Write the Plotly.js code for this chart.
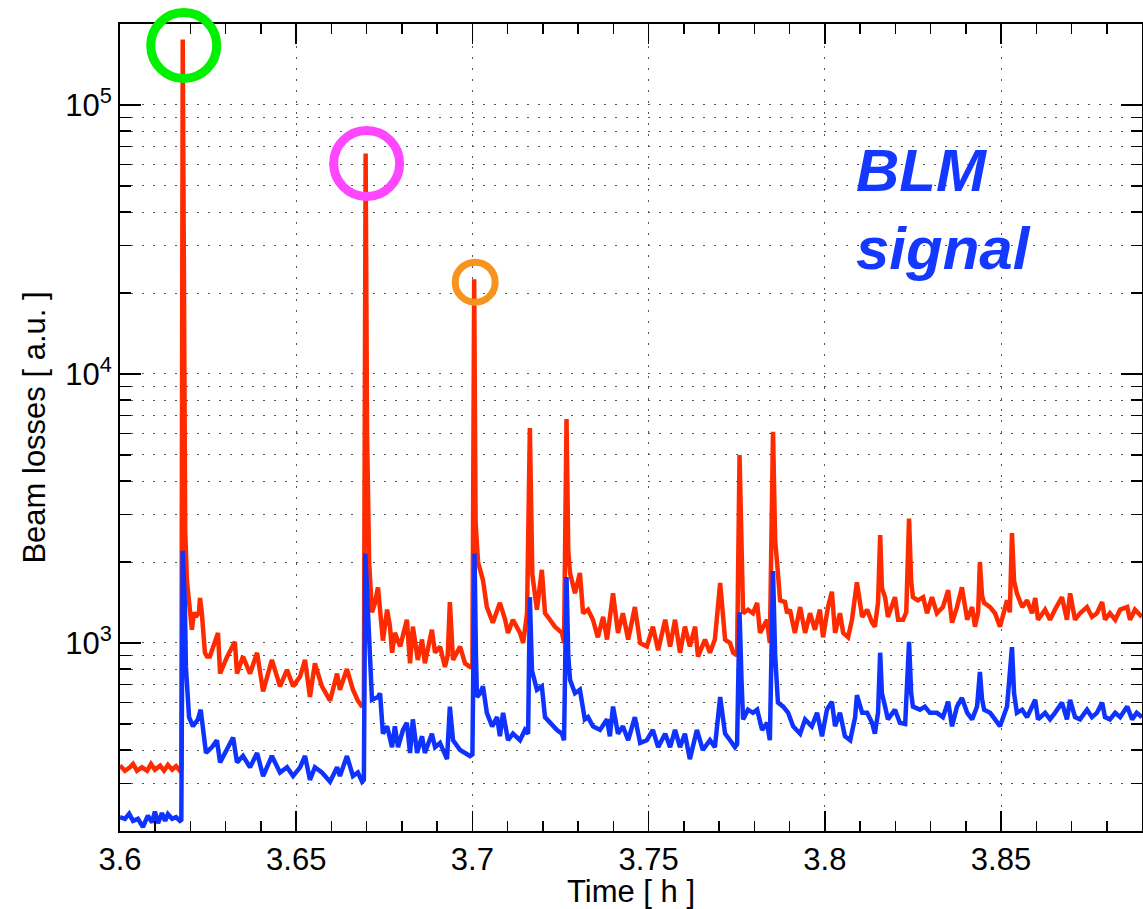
<!DOCTYPE html>
<html>
<head>
<meta charset="utf-8">
<script src="https://cdn.plot.ly/plotly-3.0.1.min.js"></script>
<style>html,body{margin:0;padding:0;background:#fff;}#chart{width:1143px;height:909px;}</style>
</head>
<body>
<div id="chart"></div>
<script>
// ---- data (time in hours, beam losses in a.u.) ----
const redTime = [3.6000,3.6014,3.6028,3.6037,3.6048,3.6062,3.6077,3.6088,3.6099,3.6114,3.6125,3.6136,3.6148,3.6159,3.6170,3.6174,
3.6178,3.6182,3.6185,3.6190,3.6199,3.6204,3.6210,3.6215,3.6224,3.6227,3.6232,3.6236,3.6241,3.6247,
3.6255,3.6278,3.6284,3.6304,3.6326,3.6332,3.6349,3.6369,3.6389,3.6406,3.6431,3.6454,3.6474,3.6491,3.6511,3.6525,3.6539,3.6553,3.6573,3.6596,3.6616,3.6624,3.6644,3.6661,3.6675,3.6687,3.6692,
3.6697,3.6701,3.6707,3.6715,3.6723,3.6732,3.6746,3.6758,3.6766,3.6772,3.6780,3.6795,3.6814,3.6823,3.6831,3.6845,3.6857,3.6865,3.6885,3.6894,3.6908,3.6922,3.6930,3.6936,3.6945,3.6965,3.6979,3.6993,3.7000,
3.7005,3.7009,3.7016,3.7022,3.7030,3.7041,3.7058,3.7078,3.7093,3.7101,3.7115,3.7135,3.7144,3.7155,
3.7163,3.7170,3.7183,3.7197,3.7206,3.7220,3.7234,3.7254,3.7260,
3.7267,3.7272,3.7277,3.7291,3.7305,3.7314,3.7328,3.7342,3.7356,3.7371,3.7382,3.7399,3.7413,3.7427,3.7442,3.7461,3.7476,3.7495,3.7512,3.7527,3.7547,3.7561,3.7575,3.7589,3.7603,3.7617,3.7632,3.7640,3.7660,3.7674,3.7688,3.7703,3.7717,3.7731,3.7740,3.7751,
3.7758,3.7764,3.7768,3.7782,3.7796,3.7808,3.7816,3.7836,3.7844,
3.7853,3.7859,3.7864,3.7873,3.7887,3.7893,3.7901,3.7915,3.7930,3.7944,3.7958,3.7972,3.7986,3.7995,3.8009,3.8020,3.8029,3.8043,3.8052,3.8066,3.8077,3.8091,3.8106,3.8120,3.8134,3.8142,3.8151,
3.8157,3.8162,3.8171,3.8179,3.8199,3.8208,3.8222,3.8231,
3.8239,3.8245,3.8250,3.8264,3.8279,3.8290,3.8304,3.8318,3.8335,3.8350,3.8361,3.8375,3.8389,3.8404,3.8418,3.8426,3.8435,
3.8440,3.8446,3.8452,3.8469,3.8483,3.8497,3.8517,3.8525,
3.8531,3.8537,3.8545,3.8560,3.8574,3.8588,3.8597,3.8605,3.8625,3.8639,3.8653,3.8673,3.8687,3.8696,3.8710,3.8724,3.8744,3.8758,3.8772,3.8787,3.8795,3.8809,3.8824,3.8838,3.8858,3.8866,3.8880,3.8900];
const redLoss = [350,335,345,355,335,345,335,355,338,350,335,352,338,348,335,340,
175000,20000,2600,1700,1300,1120,1300,1250,1300,1470,1300,1030,920,890,
890,1090,770,890,1010,770,890,770,920,660,865,690,795,690,750,865,630,840,690,610,770,670,800,670,610,580,600,
66000,6000,1980,1300,1400,1610,1020,1330,1150,920,1090,970,1220,840,1150,865,1030,840,1120,920,970,815,900,1420,865,970,840,815,830,
22500,2800,2000,1870,1710,1360,1190,1410,1220,1090,1220,1090,1000,1290,
6300,1800,1330,1870,1290,1220,1150,1090,1000,
6800,2200,1820,1530,1820,1290,1330,1220,1050,1250,1030,1530,1090,1290,1030,1360,1000,970,1150,940,1220,970,1220,920,1150,970,1150,890,1030,920,1030,1670,1030,1000,920,900,
5000,1600,1290,1330,1290,1410,1090,1220,1000,
6100,2400,2030,1440,1420,1290,1330,1090,1360,1090,1290,1120,1330,1050,1360,1550,1090,1290,1090,1050,1220,1680,1250,1330,1190,1150,1410,
2520,1600,1480,1250,1480,1220,1220,1300,
2900,1700,1480,1440,1480,1290,1480,1290,1360,1570,1190,1360,1610,1220,1360,1150,1300,
2000,1500,1410,1360,1290,1150,1440,1300,
2560,1700,1530,1360,1440,1290,1470,1220,1330,1220,1330,1480,1220,1530,1220,1290,1360,1250,1290,1420,1220,1290,1220,1330,1360,1220,1330,1250];

const blueTime = [3.6000,3.6014,3.6026,3.6037,3.6051,3.6065,3.6079,3.6091,3.6099,3.6108,3.6119,3.6128,3.6136,3.6148,3.6159,3.6170,3.6174,
3.6178,3.6184,3.6187,3.6196,3.6207,3.6221,3.6229,3.6236,3.6244,
3.6261,3.6275,3.6284,3.6304,3.6321,3.6332,3.6349,3.6369,3.6389,3.6406,3.6431,3.6454,3.6474,3.6491,3.6511,3.6525,3.6539,3.6553,3.6573,3.6596,3.6616,3.6624,3.6644,3.6661,3.6675,3.6687,3.6692,
3.6696,3.6702,3.6707,3.6715,3.6732,3.6738,3.6746,3.6758,3.6772,3.6780,3.6789,3.6803,3.6814,3.6823,3.6831,3.6843,3.6857,3.6865,3.6885,3.6894,3.6908,3.6928,3.6936,3.6945,3.6965,3.6979,3.6993,3.7000,
3.7006,3.7010,3.7013,3.7022,3.7030,3.7041,3.7056,3.7070,3.7078,3.7087,3.7101,3.7115,3.7135,3.7149,3.7158,
3.7163,3.7169,3.7183,3.7197,3.7206,3.7220,3.7240,3.7254,3.7260,
3.7267,3.7272,3.7277,3.7291,3.7305,3.7319,3.7328,3.7342,3.7362,3.7382,3.7390,3.7399,3.7413,3.7427,3.7442,3.7461,3.7476,3.7495,3.7512,3.7527,3.7547,3.7561,3.7575,3.7589,3.7603,3.7617,3.7637,3.7654,3.7674,3.7688,3.7703,3.7717,3.7731,3.7745,3.7751,
3.7758,3.7764,3.7768,3.7782,3.7796,3.7808,3.7822,3.7836,3.7844,
3.7853,3.7859,3.7867,3.7882,3.7896,3.7910,3.7930,3.7944,3.7963,3.7978,3.7992,3.8006,3.8020,3.8029,3.8043,3.8057,3.8072,3.8086,3.8091,3.8106,3.8120,3.8134,3.8142,3.8151,
3.8157,3.8162,3.8171,3.8179,3.8199,3.8213,3.8228,
3.8239,3.8245,3.8250,3.8270,3.8284,3.8298,3.8318,3.8335,3.8350,3.8361,3.8375,3.8389,3.8404,3.8418,3.8432,
3.8440,3.8446,3.8452,3.8469,3.8483,3.8497,3.8517,
3.8531,3.8537,3.8545,3.8560,3.8574,3.8597,3.8605,3.8625,3.8639,3.8653,3.8673,3.8687,3.8696,3.8710,3.8724,3.8744,3.8758,3.8772,3.8787,3.8795,3.8809,3.8824,3.8838,3.8858,3.8872,3.8885,3.8900];
const blueLoss = [225,222,232,218,222,207,228,215,236,214,233,218,231,222,225,218,220,
2200,1400,815,530,490,520,565,475,390,
410,435,360,400,445,360,380,345,390,320,380,330,345,320,345,380,310,345,330,305,345,320,380,320,330,305,310,
2150,1400,940,615,630,650,460,490,410,490,410,475,505,390,520,390,450,390,460,410,425,370,580,435,400,390,380,385,
2150,900,630,650,690,550,490,530,450,550,435,460,435,475,460,
1480,790,670,690,530,505,475,460,435,
1760,900,730,650,670,520,530,490,475,520,450,580,460,490,435,530,425,435,475,410,460,410,475,410,460,370,475,400,435,410,630,460,435,410,420,
1300,700,520,565,550,565,475,505,435,
1850,900,600,580,550,490,460,520,490,550,450,565,605,490,550,450,435,530,640,550,550,505,460,550,
920,650,580,520,565,505,500,
1010,650,580,565,580,550,550,530,605,490,580,625,550,520,580,
780,620,565,550,520,490,580,
965,650,550,565,530,615,520,550,520,550,600,520,615,530,520,565,530,550,600,530,520,550,530,580,520,550,530];

// highlighted peaks (time, loss)
const peakTime = [3.6178, 3.6697, 3.7005];
const peakLoss = [175000, 66000, 22500];

const xTickVals = [3.6, 3.65, 3.7, 3.75, 3.8, 3.85];
const xTickText = ['3.6', '3.65', '3.7', '3.75', '3.8', '3.85'];
const yTickVals = [1e3, 1e4, 1e5];
const yTickText = ['10<sup>3</sup>', '10<sup>4</sup>', '10<sup>5</sup>'];
const yDecades = [100, 1000, 10000, 100000];
const yMultipliers = [2, 3, 4, 5, 6, 7, 8, 9];

const xRange = [3.6, 3.89];
const yRange = [200, 200000];

const yMinorVals = [];
yDecades.forEach(d => yMultipliers.forEach(m => yMinorVals.push(d * m)));

const FONT = 'Liberation Sans, Arial, Helvetica, sans-serif';
const RED = '#ff2b00';
const BLUE = '#0f33ff';

const traces = [
  {x: redTime, y: redLoss, type: 'scatter', mode: 'lines', line: {color: RED, width: 4.5}, hoverinfo: 'skip'},
  {x: blueTime, y: blueLoss, type: 'scatter', mode: 'lines', line: {color: BLUE, width: 4.5}, hoverinfo: 'skip'}
];

// circles around the three largest peaks, anchored at the peaks (converted to axis fractions)
const ly0 = Math.log10(yRange[0]), ly1 = Math.log10(yRange[1]);
const circleStyle = [
  {color: '#02f002', r: 33, w: 9, dx: 1, dy: -6},
  {color: '#ff47ff', r: 33, w: 9, dx: 1, dy: -10},
  {color: '#f7941d', r: 20, w: 7, dx: 1, dy: -3}
];
const shapes = peakTime.map((t, i) => {
  const s = circleStyle[i];
  return {
    type: 'circle', xref: 'paper', yref: 'paper',
    xsizemode: 'pixel', ysizemode: 'pixel',
    xanchor: (t - xRange[0]) / (xRange[1] - xRange[0]),
    yanchor: (Math.log10(peakLoss[i]) - ly0) / (ly1 - ly0),
    x0: s.dx - s.r, x1: s.dx + s.r, y0: s.dy - s.r, y1: s.dy + s.r,
    line: {color: s.color, width: s.w}
  };
});

const gridDash = '2px,9px';
const layout = {
  width: 1143, height: 909,
  margin: {l: 120, r: 1, t: 24, b: 78, pad: 0},
  paper_bgcolor: '#ffffff', plot_bgcolor: '#ffffff',
  showlegend: false,
  font: {family: FONT, size: 31, color: '#000'},
  xaxis: {
    type: 'linear', range: xRange,
    tickmode: 'array', tickvals: xTickVals, ticktext: xTickText,
    ticks: 'inside', ticklen: 20, tickwidth: 1.5, tickcolor: '#000',
    showline: true, linecolor: '#000', linewidth: 2, mirror: 'allticks',
    showgrid: true, gridcolor: '#555', gridwidth: 1, griddash: gridDash,
    zeroline: false,
    tickfont: {family: FONT, size: 31, color: '#000'},
    minor: {dtick: 0.01, tick0: 3.6, ticks: 'inside', ticklen: 10, tickwidth: 1.5, tickcolor: '#000', showgrid: false},
    title: {text: 'Time [ h ]', font: {family: FONT, size: 31, color: '#000'}, standoff: 4}
  },
  yaxis: {
    type: 'log', range: [ly0, ly1],
    tickmode: 'array', tickvals: yTickVals, ticktext: yTickText,
    ticks: 'inside', ticklen: 21, tickwidth: 1.5, tickcolor: '#000',
    showline: true, linecolor: '#000', linewidth: 2, mirror: 'allticks',
    showgrid: true, gridcolor: '#555', gridwidth: 1, griddash: gridDash,
    zeroline: false,
    tickfont: {family: FONT, size: 31, color: '#000'},
    minor: {tickmode: 'array', tickvals: yMinorVals, ticks: 'inside', ticklen: 11, tickwidth: 1.5, tickcolor: '#000',
            showgrid: true, gridcolor: '#555', gridwidth: 1, griddash: gridDash},
    title: {text: 'Beam losses [ a.u. ]', font: {family: FONT, size: 31, color: '#000'}, standoff: 10}
  },
  shapes: shapes,
  annotations: [{
    xref: 'paper', yref: 'paper', x: 0.718, y: 0.862, xanchor: 'left', yanchor: 'top', align: 'left',
    text: '<b><i>BLM</i></b><br><b><i>signal</i></b>', showarrow: false,
    font: {family: FONT, size: 60, color: '#1438ff'}
  }]
};

Plotly.newPlot('chart', traces, layout, {staticPlot: true, displayModeBar: false});
</script>
</body>
</html>
